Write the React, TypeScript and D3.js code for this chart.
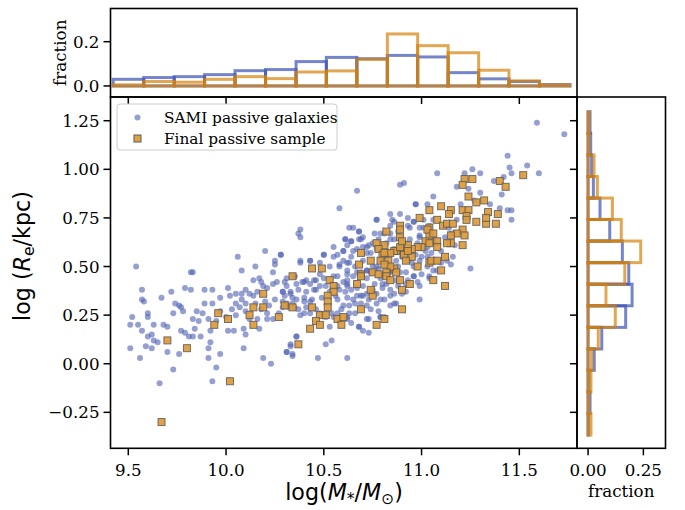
import React from "react";
import * as d3 from "d3";

// ---------------- DATA ----------------
// SAMI passive galaxies: [log M*, log Re]
const samiPoints: [number, number][] = [
  [9.54,0.50],[10.58,0.80],[10.38,0.69],[10.37,0.67],[10.38,0.65],[10.06,0.55],[10.20,0.58],[10.28,0.56],[10.25,0.53],[10.15,0.50],
  [10.08,0.48],[10.25,0.51],[10.24,0.47],[10.38,0.53],[10.43,0.53],[10.50,0.56],[10.57,0.56],[10.60,0.58],[10.61,0.64],[10.63,0.70],
  [10.14,0.43],[10.18,0.42],[10.17,0.44],[9.82,0.47],[9.83,0.47],[9.57,0.38],[9.57,0.33],[9.58,0.32],[9.67,0.34],[9.72,0.37],
  [9.79,0.39],[9.82,0.38],[9.89,0.38],[9.93,0.38],[9.97,0.34],[10.01,0.39],[10.02,0.35],[10.05,0.36],[10.08,0.36],[10.10,0.38],
  [10.12,0.36],[10.14,0.35],[10.16,0.37],[10.19,0.40],[10.21,0.39],[10.24,0.41],[10.26,0.42],[10.30,0.42],[10.29,0.37],[10.31,0.40],
  [10.33,0.37],[10.36,0.41],[10.39,0.42],[10.41,0.43],[10.43,0.41],[10.46,0.43],[10.50,0.44],[10.51,0.40],[10.53,0.37],[10.57,0.40],
  [10.60,0.42],[10.62,0.41],
  [9.52,0.24],[9.51,0.20],[9.55,0.20],[9.57,0.17],[9.60,0.26],[9.60,0.24],[9.60,0.14],[9.62,0.15],[9.63,0.20],[9.63,0.12],
  [9.65,0.11],[9.51,0.08],[9.56,0.03],[9.59,0.09],[9.62,0.08],[9.68,0.20],[9.70,0.19],[9.73,0.26],[9.74,0.31],[9.76,0.30],
  [9.77,0.29],[9.78,0.27],[9.77,0.17],[9.79,0.16],[9.81,0.14],[9.83,0.14],[9.84,0.18],[9.83,0.23],[9.86,0.22],[9.87,0.14],
  [9.85,0.27],[9.88,0.26],[9.89,0.31],[9.93,0.31],[9.91,0.23],[9.92,0.17],[9.92,0.11],[9.91,0.08],[9.95,0.22],[9.97,0.27],
  [10.00,0.24],[10.01,0.17],[10.04,0.17],[10.03,0.28],[10.05,0.31],[10.07,0.29],[10.08,0.33],[10.10,0.31],[10.09,0.18],[10.10,0.15],
  [10.09,0.08],[10.12,0.23],[10.16,0.23],[10.17,0.18],[10.18,0.28],[10.21,0.26],[10.21,0.23],[10.22,0.30],[10.24,0.23],[10.27,0.26],
  [10.29,0.29],[10.29,0.32],[10.32,0.29],[10.34,0.34],[10.34,0.31],[10.36,0.33],[10.37,0.28],[10.40,0.26],[10.41,0.29],[10.43,0.32],
  [10.46,0.28],[10.48,0.26],[10.51,0.24],[10.54,0.26],[10.57,0.26],[10.60,0.30],[10.62,0.24],
  [9.66,-0.10],[9.73,-0.03],[9.76,0.05],[9.70,0.06],[9.91,0.03],[9.95,-0.02],[9.93,-0.09],[9.97,0.05],[10.19,0.03],[10.23,0.00],
  [10.31,0.06],[10.34,0.05],[10.33,0.09],[10.36,0.14],[10.47,0.03],[10.51,0.10],[10.54,0.12],[10.62,0.03],
  [11.59,1.24],[11.73,1.18],[11.44,1.07],[11.54,1.02],[11.60,0.98],[11.46,0.98],[11.45,1.01],[11.42,0.96],[11.37,0.94],[11.30,0.98],
  [11.26,1.00],[11.22,0.98],[11.18,0.91],[11.08,0.98],[10.91,0.93],[10.89,0.92],[10.67,0.89],[11.06,0.86],[10.97,0.82],[11.03,0.82],
  [11.41,0.87],[11.27,0.84],[11.44,0.79],[11.46,0.79],[11.46,0.74],[10.77,0.74],[10.85,0.74],[10.84,0.71],[10.93,0.75],[10.96,0.73],
  [11.01,0.70],[11.01,0.74],[11.04,0.71],[10.65,0.70],[10.68,0.68],[10.64,0.63],[10.70,0.65],[10.72,0.60],[10.75,0.62],[10.78,0.64],
  [10.81,0.67],[10.84,0.67],[10.86,0.64],[10.93,0.71],[10.94,0.64],[10.98,0.62],[11.03,0.60],[11.06,0.64],[11.15,0.67],[11.17,0.61],
  [11.16,0.55],[11.13,0.53],[11.15,0.51],[11.25,0.49],[10.99,0.33],[10.90,0.36],[10.87,0.31],[10.84,0.35],[10.81,0.33],[10.77,0.31],
  [10.74,0.28],[10.72,0.23],[10.70,0.17],[10.68,0.19],[10.64,0.21],[10.62,0.23],[10.79,0.24],[10.81,0.24],[10.65,0.33],[10.69,0.35],
  [10.72,0.36],[10.75,0.38],[10.62,0.43],[10.65,0.45],[10.69,0.47],[10.72,0.48],[10.75,0.50],[10.79,0.53],[10.82,0.55],[10.86,0.59],
  [10.89,0.60],[10.93,0.53],[10.96,0.50],[10.99,0.53],[11.03,0.50],[11.06,0.48],[11.10,0.52],[10.60,0.53],[10.64,0.55],[10.67,0.59],
  [10.70,0.60],[10.74,0.57],[10.77,0.59],[10.62,0.48],[10.61,0.37],[10.79,0.44],[10.84,0.47],[10.82,0.41],[10.93,0.43],[10.96,0.45],
  [10.87,0.43],
  [10.55,0.45],[10.58,0.50],[10.62,0.52],[10.66,0.50],[10.70,0.53],[10.72,0.44],[10.74,0.47],[10.76,0.41],[10.78,0.49],[10.80,0.46],
  [10.83,0.52],[10.85,0.48],[10.88,0.50],[10.90,0.55],[10.92,0.47],[10.95,0.52],[10.97,0.56],[11.00,0.55],[11.02,0.58],[11.05,0.57],
  [11.07,0.62],[11.10,0.58],[11.12,0.65],[11.14,0.70],[11.18,0.74],[11.20,0.82],[11.24,0.90],[11.30,0.88],[11.35,0.82],[11.40,0.80],
  [10.64,0.38],[10.67,0.35],[10.70,0.40],[10.73,0.33],[10.77,0.36],[10.80,0.39],[10.86,0.36],[10.88,0.40],[10.92,0.37],[10.98,0.42],
  [11.00,0.46],[11.04,0.44],[10.56,0.35],[10.59,0.28],[10.63,0.30],[10.66,0.26],[10.69,0.31],[10.78,0.27],[10.84,0.30],[10.55,0.60],
  [10.62,0.61],[10.68,0.64],[10.76,0.67],[10.82,0.62],[10.88,0.68],[10.94,0.70],[10.99,0.66],[10.45,0.38],[10.48,0.46],[10.40,0.34],
  [10.35,0.45],[10.30,0.35],[10.25,0.33],[10.20,0.32],[10.15,0.31],[10.10,0.27],[10.05,0.25],
  [10.68,0.68],[10.77,0.74],[10.86,0.73],[10.97,0.82],[10.96,0.73],[10.61,0.64],[10.64,0.63],[10.69,0.64],[10.73,0.61],[10.50,0.56],
  [10.55,0.55],[10.60,0.58],[10.65,0.58],[10.72,0.57],[10.28,0.56],[10.38,0.52],[10.43,0.53],[10.48,0.52],[10.53,0.50],[10.58,0.51],
  [10.63,0.52],[10.31,0.44],[10.35,0.45],[10.40,0.42],[10.45,0.43],[10.48,0.40],[10.57,0.45],[10.62,0.46],[10.67,0.47],[10.72,0.48],
  [10.77,0.50],[10.29,0.37],[10.33,0.36],[10.37,0.38],[10.41,0.37],[10.46,0.38],[10.49,0.34],[10.58,0.38],[10.62,0.40],[10.67,0.39],
  [10.70,0.35],[10.74,0.37],[10.80,0.41],[10.84,0.38],[10.31,0.31],[10.35,0.29],[10.40,0.32],[10.44,0.33],[10.57,0.33],[10.62,0.34],
  [10.66,0.31],[10.72,0.30],[10.79,0.33],[10.86,0.31],[10.38,0.25],[10.43,0.26],[10.55,0.24],[10.63,0.26],[10.73,0.23],[10.79,0.24],
  [10.53,0.19],[10.68,0.19],[10.73,0.16],[10.36,0.14],[10.33,0.10],[10.31,0.06],[10.34,0.04],[10.84,0.64],[10.79,0.67],[10.87,0.53],
  [10.80,0.55],[10.99,0.65],[10.92,0.62],[11.03,0.55],[11.08,0.53],[10.96,0.45],[10.99,0.40],[10.92,0.41],[10.89,0.47],[11.04,0.45],
  [11.08,0.48],[10.84,0.77],[10.89,0.77],[10.99,0.70],[11.06,0.74],
];

// Final passive sample: [log M*, log Re]
const finalPoints: [number, number][] = [
  [10.34,0.45],[10.44,0.49],[10.49,0.49],[10.53,0.43],[10.55,0.40],[10.55,0.37],[10.52,0.35],[10.52,0.32],[10.52,0.29],[10.19,0.36],
  [10.14,0.29],[10.19,0.29],[10.12,0.25],[10.14,0.20],[9.96,0.26],[10.01,0.23],[9.94,0.20],[10.30,0.30],[10.34,0.29],[10.27,0.24],
  [10.44,0.29],[10.48,0.25],[10.51,0.25],[10.46,0.22],[10.48,0.20],[10.43,0.18],[10.57,0.23],[10.60,0.24],[10.59,0.20],[10.37,0.10],
  [9.70,0.12],[9.80,0.08],[10.02,-0.09],[9.67,-0.30],
  [11.52,0.97],[11.40,0.94],[11.43,0.91],[11.24,0.86],[11.28,0.83],[11.32,0.84],[11.22,0.95],[11.26,0.95],[11.21,0.92],[11.04,0.79],
  [11.10,0.81],[11.15,0.79],[11.14,0.77],[11.21,0.79],[11.24,0.79],[11.23,0.76],[11.23,0.74],[11.28,0.73],[11.33,0.72],[11.34,0.78],
  [11.38,0.72],[11.39,0.77],[11.33,0.75],[10.99,0.75],[10.89,0.71],[10.89,0.69],[10.82,0.68],[11.08,0.74],[11.11,0.71],[11.13,0.72],
  [11.16,0.72],[11.21,0.69],[11.22,0.66],[11.18,0.67],[11.15,0.66],[11.15,0.62],[11.13,0.62],[11.21,0.61],[11.08,0.63],[11.04,0.70],
  [11.04,0.66],[11.03,0.69],[11.06,0.67],[11.02,0.63],[11.00,0.60],[11.04,0.62],[11.08,0.60],[10.98,0.60],[10.95,0.59],[10.93,0.61],
  [10.95,0.55],[10.91,0.58],[10.87,0.58],[10.86,0.58],[10.91,0.56],[10.92,0.53],[10.93,0.58],[10.89,0.60],[10.89,0.65],[10.90,0.63],
  [10.81,0.61],[10.77,0.62],[10.78,0.59],[10.80,0.56],[10.84,0.57],[10.74,0.53],[10.69,0.57],[10.68,0.51],[10.79,0.53],[10.81,0.57],
  [10.83,0.53],[10.86,0.49],[10.87,0.47],[10.84,0.50],[10.82,0.47],[10.81,0.51],[10.75,0.47],[10.78,0.46],[10.69,0.46],[10.69,0.45],
  [10.67,0.41],[10.75,0.35],[10.74,0.38],[10.82,0.45],[10.84,0.43],[10.89,0.43],[10.90,0.38],[10.94,0.41],[10.98,0.50],[11.04,0.52],
  [11.05,0.53],[11.08,0.53],[11.12,0.55],[11.10,0.48],[11.06,0.43],[11.12,0.40],[10.69,0.28],[10.90,0.28],[10.81,0.23],[10.77,0.20],
];

// Histogram bin edges and fractions
const massEdges = [9.423, 9.579, 9.735, 9.890, 10.046, 10.202, 10.358, 10.513, 10.669, 10.825, 10.980, 11.136, 11.292, 11.447, 11.603, 11.759];
const massFracSami = [0.030, 0.038, 0.042, 0.051, 0.069, 0.074, 0.110, 0.129, 0.123, 0.138, 0.131, 0.060, 0.032, 0.020, 0.006];
const massFracFinal = [0.005, 0.020, 0.017, 0.030, 0.042, 0.033, 0.063, 0.068, 0.120, 0.235, 0.182, 0.150, 0.071, 0.023, 0.005];

const reEdges = [-0.367, -0.256, -0.145, -0.034, 0.076, 0.187, 0.298, 0.409, 0.520, 0.631, 0.742, 0.852, 0.963, 1.074, 1.185, 1.296];
const reFracSami = [0.002, 0.009, 0.004, 0.028, 0.062, 0.170, 0.199, 0.184, 0.155, 0.098, 0.054, 0.024, 0.016, 0.012, 0.009];
const reFracFinal = [0.013, 0.003, 0.013, 0.016, 0.046, 0.123, 0.081, 0.166, 0.238, 0.150, 0.110, 0.042, 0.027, 0.004, 0.004];

const massTicks = [9.5, 10.0, 10.5, 11.0, 11.5];
const reTicks = [-0.25, 0, 0.25, 0.5, 0.75, 1.0, 1.25];
const topFracTicks = [0.0, 0.2];
const rightFracTicks = [0.0, 0.25];

// ---------------- STYLE / LAYOUT ----------------
const W = 685, H = 510;
const MAIN = { l: 110.5, r: 577, t: 97, b: 448.3 };
const TOP = { t: 8.5, b: 97 };
const RIGHT = { l: 577, r: 665.5 };

const BLUE_PT = "#4f60b3";
const ORANGE_PT = "#dd9a3a";
const BLUE_H = "#3a51b2";
const ORANGE_H = "#d4820a";
const SERIF = "'DejaVu Serif', serif";
const SANS = "'DejaVu Sans', sans-serif";
const TICK_FS = 16.7;
const TICK_LEN = 7;

const fmt2 = (v: number) => (v < 0 ? "\u2212" : "") + Math.abs(v).toFixed(2);
const fmt1 = (v: number) => (v < 0 ? "\u2212" : "") + Math.abs(v).toFixed(1);

export default function App() {
  const x = d3.scaleLinear().domain([9.409, 11.795]).range([MAIN.l, MAIN.r]);
  const y = d3.scaleLinear().domain([-0.435, 1.372]).range([MAIN.b, MAIN.t]);
  const yTop = d3.scaleLinear().domain([-0.05, 0.35]).range([TOP.b, TOP.t]);
  const xRight = d3.scaleLinear().domain([-0.05, 0.35]).range([RIGHT.l, RIGHT.r]);

  const sq = 7;

  const topBars = (vals: number[], color: string, op: number, key: string) =>
    vals.map((v, i) => {
      const x0 = x(massEdges[i]), x1 = x(massEdges[i + 1]);
      const y0 = yTop(0), y1 = yTop(v);
      return (
        <rect key={key + i} x={x0} y={y1} width={x1 - x0} height={Math.max(0, y0 - y1)}
          fill="none" stroke={color} strokeWidth={3} strokeOpacity={op} />
      );
    });
  const rightBars = (vals: number[], color: string, op: number, key: string) =>
    vals.map((v, i) => {
      const y0 = y(reEdges[i]), y1 = y(reEdges[i + 1]);
      const x0 = xRight(0), x1 = xRight(v);
      return (
        <rect key={key + i} x={x0} y={y1} width={Math.max(0, x1 - x0)} height={y0 - y1}
          fill="none" stroke={color} strokeWidth={3} strokeOpacity={op} />
      );
    });

  return (
    <svg width={W} height={H} style={{ position: "absolute", left: 0, top: 0, background: "#fff" }}>
      <rect x={0} y={0} width={W} height={H} fill="#fff" />

      {/* ---------- top histogram ---------- */}
      {topBars(massFracSami, BLUE_H, 0.7, "tbS")}
      {topBars(massFracFinal, ORANGE_H, 0.7, "tbF")}
      {topFracTicks.map((t) => (
        <g key={"tt" + t}>
          <line x1={MAIN.l - TICK_LEN} x2={MAIN.l} y1={yTop(t)} y2={yTop(t)} stroke="#000" strokeWidth={1.5} />
          <text x={MAIN.l - TICK_LEN - 4} y={yTop(t) + 6} textAnchor="end" fontFamily={SERIF} fontSize={TICK_FS}>{fmt1(t)}</text>
        </g>
      ))}
      {massTicks.map((t) => (
        <line key={"tb" + t} x1={x(t)} x2={x(t)} y1={TOP.b} y2={TOP.b + TICK_LEN} stroke="#000" strokeWidth={1.5} />
      ))}
      <text transform={`translate(${66},${(TOP.t + TOP.b) / 2}) rotate(-90)`} textAnchor="middle" fontFamily={SERIF} fontSize={TICK_FS}>fraction</text>
      <rect x={MAIN.l} y={TOP.t} width={MAIN.r - MAIN.l} height={TOP.b - TOP.t} fill="none" stroke="#000" strokeWidth={1.6} />

      {/* ---------- right histogram ---------- */}
      {rightBars(reFracSami, BLUE_H, 0.7, "rbS")}
      {rightBars(reFracFinal, ORANGE_H, 0.7, "rbF")}
      {reTicks.map((t) => (
        <line key={"rt" + t} x1={RIGHT.l - TICK_LEN} x2={RIGHT.l} y1={y(t)} y2={y(t)} stroke="#000" strokeWidth={1.5} />
      ))}
      {rightFracTicks.map((t) => (
        <g key={"rb" + t}>
          <line x1={xRight(t)} x2={xRight(t)} y1={MAIN.b} y2={MAIN.b + TICK_LEN} stroke="#000" strokeWidth={1.5} />
          <text x={xRight(t)} y={MAIN.b + 27.7} textAnchor="middle" fontFamily={SERIF} fontSize={TICK_FS}>{fmt2(t)}</text>
        </g>
      ))}
      <text x={(RIGHT.l + RIGHT.r) / 2} y={497} textAnchor="middle" fontFamily={SERIF} fontSize={TICK_FS}>fraction</text>
      <rect x={RIGHT.l} y={MAIN.t} width={RIGHT.r - RIGHT.l} height={MAIN.b - MAIN.t} fill="none" stroke="#000" strokeWidth={1.6} />

      {/* ---------- main scatter ---------- */}
      <g>
        {samiPoints.map((d, i) => (
          <circle key={"s" + i} cx={x(d[0])} cy={y(d[1])} r={3} fill={BLUE_PT} fillOpacity={0.6} />
        ))}
      </g>
      <g>
        {finalPoints.map((d, i) => (
          <rect key={"f" + i} x={x(d[0]) - sq / 2} y={y(d[1]) - sq / 2} width={sq} height={sq}
            fill={ORANGE_PT} fillOpacity={0.92} stroke="#5e5a55" strokeOpacity={0.85} strokeWidth={1} />
        ))}
      </g>

      {massTicks.map((t) => (
        <g key={"mx" + t}>
          <line x1={x(t)} x2={x(t)} y1={MAIN.b} y2={MAIN.b + TICK_LEN} stroke="#000" strokeWidth={1.5} />
          <text x={x(t)} y={MAIN.b + 27.7} textAnchor="middle" fontFamily={SERIF} fontSize={TICK_FS}>{t.toFixed(1)}</text>
        </g>
      ))}
      {reTicks.map((t) => (
        <g key={"my" + t}>
          <line x1={MAIN.l - TICK_LEN} x2={MAIN.l} y1={y(t)} y2={y(t)} stroke="#000" strokeWidth={1.5} />
          <text x={MAIN.l - TICK_LEN - 4} y={y(t) + 6} textAnchor="end" fontFamily={SERIF} fontSize={TICK_FS}>{fmt2(t)}</text>
        </g>
      ))}
      <rect x={MAIN.l} y={MAIN.t} width={MAIN.r - MAIN.l} height={MAIN.b - MAIN.t} fill="none" stroke="#000" strokeWidth={1.6} />

      {/* legend */}
      <g>
        <rect x={117} y={104} width={220} height={46} rx={3} ry={3} fill="#fff" fillOpacity={0.8} stroke="#cccccc" strokeWidth={1} />
        <circle cx={137.5} cy={117.5} r={3} fill={BLUE_PT} fillOpacity={0.6} />
        <text x={164} y={122.5} fontFamily={SERIF} fontSize={15.3}>SAMI passive galaxies</text>
        <rect x={137.5 - sq / 2} y={138.5 - sq / 2} width={sq} height={sq} fill={ORANGE_PT} fillOpacity={0.92} stroke="#5e5a55" strokeWidth={1} />
        <text x={164} y={143.5} fontFamily={SERIF} fontSize={15.3}>Final passive sample</text>
      </g>

      {/* axis labels */}
      <text transform={`translate(${30},${256}) rotate(-90)`} textAnchor="middle" fontFamily={SANS} fontSize={22.2}>
        log (<tspan fontStyle="italic">R</tspan><tspan fontSize={15.5} dy={4}>e</tspan><tspan dy={-4}>/kpc)</tspan>
      </text>
      <text x={344} y={500} textAnchor="middle" fontFamily={SANS} fontSize={22.2}>
        log(<tspan fontStyle="italic">M</tspan><tspan fontSize={15.5} dy={4}>*</tspan><tspan dy={-4}>/</tspan><tspan fontStyle="italic">M</tspan><tspan fontSize={15.5} dy={4}>⊙</tspan><tspan dy={-4}>)</tspan>
      </text>
    </svg>
  );
}
